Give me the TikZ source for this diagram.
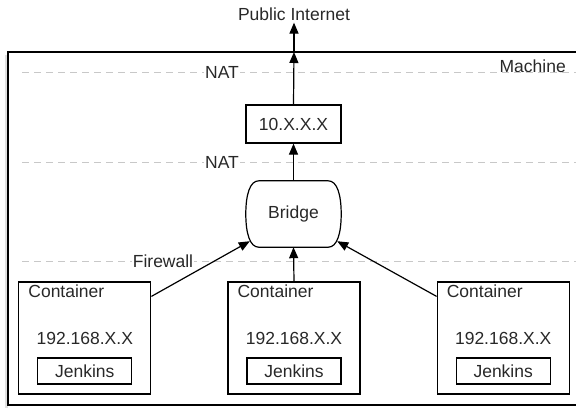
\documentclass[tikz,border=0pt]{standalone}
\usepackage{fontspec}
\setmainfont{Liberation Sans}
\usetikzlibrary{positioning,calc,arrows.meta}
\definecolor{mygray}{RGB}{200,200,200}
\definecolor{mytext}{RGB}{40,40,40}

\begin{document}
\begin{tikzpicture}[x=1pt,y=-1pt,
    every node/.style={font=\fontsize{17.5}{20}\selectfont,text=mytext,inner sep=2pt},
    box/.style={draw,line width=1.2pt},
    ctnode/.style={box,minimum width=132pt,minimum height=112pt},
    jknode/.style={box,minimum width=94pt,minimum height=26pt},
    wall/.style={mygray,line width=1pt,dash pattern=on 7pt off 5pt},
    walllabel/.style={fill=white,inner sep=1pt},
    arr/.style={line width=1.2pt,-{Triangle[length=11pt,width=9pt]}},
    node distance=76pt
    ]
    \clip (0,0) rectangle (576,408);

    % the machine
    \fill[black!12] (5,55) rectangle (8,408);
    \draw[line width=1.5pt] (8,52) rectangle (600,405);
    \node[anchor=east] (mlabel) at (568,66) {Machine};
    \coordinate (gate) at (294,52);

    % the walls
    \draw[wall] (22,72) -- (576,72);
    \draw[wall] (22,162) -- (576,162);
    \draw[wall] (22,261) -- (576,261);
    \node[walllabel] (nat1) at (222,72) {NAT};
    \node[walllabel] (nat2) at (222,162) {NAT};
    \node[walllabel] (fw) at (163,261) {Firewall};

    \node (inet) at (294,14) {Public Internet};
    \node[box,minimum width=95pt,minimum height=38pt] (nat) at (293.5,124) {10.X.X.X};
    \node[minimum width=93pt,minimum height=66pt] (bridge) at (293.5,214) {Bridge};
    \draw[line width=1.2pt] ($(bridge.north west)+(12,0)$) -- ($(bridge.north east)+(-12,0)$)
        .. controls ($(bridge.north east)+(-3,0)$) and ($(bridge.north east)+(1,14)$) .. ($(bridge.east)+(1,0)$)
        .. controls ($(bridge.south east)+(1,-14)$) and ($(bridge.south east)+(-3,0)$) .. ($(bridge.south east)+(-12,0)$)
        -- ($(bridge.south west)+(12,0)$)
        .. controls ($(bridge.south west)+(3,0)$) and ($(bridge.south west)+(-1,-14)$) .. ($(bridge.west)+(-1,0)$)
        .. controls ($(bridge.north west)+(-1,14)$) and ($(bridge.north west)+(3,0)$) .. cycle;

    % the containers
    \node[ctnode] (c2) at (294,338) {};
    \node[ctnode,left=of c2] (c1) {};
    \node[ctnode,right=of c2] (c3) {};
    \foreach \c in {c1,c2,c3} {
        \node[anchor=north west,inner sep=0pt] (\c-name) at ($(\c.north west)+(10,3)$) {Container};
        \node (\c-ip) at (\c.center) {192.168.X.X};
        \node[jknode] (\c-jk) at ($(\c.center)+(0,33)$) {Jenkins};
    }

    % the edges
    \draw[arr] (nat.north) -- (gate);
    \draw[arr] (gate) -- (inet.south);
    \draw[arr] (bridge.north) -- (nat.south);
    \draw[arr] (c2.north) -- (bridge.south);
    \draw[arr] ($(c1.north east)+(0,15)$) -- ($(bridge.south west)+(3,-6)$);
    \draw[arr] ($(c3.north west)+(0,15)$) -- ($(bridge.south east)+(-3,-6)$);
\end{tikzpicture}
\end{document}
